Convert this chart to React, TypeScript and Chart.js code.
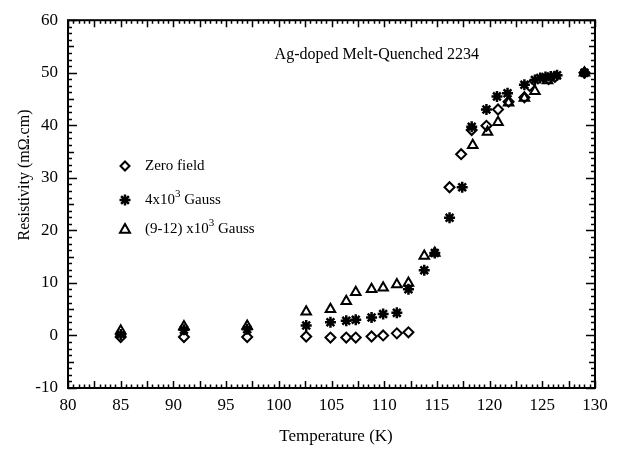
import React, { useEffect, useRef } from "react";
import { Chart, registerables } from "chart.js";

Chart.register(...registerables);

// Zero field (open diamonds)
const zeroT = [85, 91, 97, 102.6, 104.9, 106.4, 107.3, 108.8, 109.9, 111.2, 112.3, 116.2, 117.3, 118.3, 119.7, 120.8, 121.8, 123.3, 123.8, 125.6, 126.2, 129];
const zeroR = [-0.3, -0.3, -0.3, -0.2, -0.4, -0.4, -0.4, -0.2, 0.0, 0.4, 0.6, 28.2, 34.5, 39.1, 39.9, 43.0, 44.5, 45.3, 47.5, 48.8, 49.2, 50.0];

// 4x10^3 Gauss (asterisks)
const g4T = [85, 91, 97, 102.6, 104.9, 106.4, 107.3, 108.8, 109.9, 111.2, 112.3, 113.8, 114.8, 116.2, 117.4, 118.3, 119.7, 120.7, 121.7, 123.3, 124.3, 124.8, 125.3, 125.8, 126.4, 129];
const g4R = [0.2, 1.1, 1.2, 1.9, 2.5, 2.8, 3.0, 3.4, 4.1, 4.3, 8.8, 12.4, 15.7, 22.4, 28.2, 39.7, 43.0, 45.5, 46.1, 47.7, 48.6, 49.0, 49.2, 49.3, 49.5, 50.0];

// (9-12)x10^3 Gauss (open triangles)
const g9T = [85, 91, 97, 102.6, 104.9, 106.4, 107.3, 108.8, 109.9, 111.2, 112.3, 113.8, 114.8, 118.4, 119.8, 120.8, 121.8, 123.3, 124.3, 125.5, 129];
const g9R = [0.9, 1.7, 1.8, 4.5, 5.0, 6.5, 8.2, 8.8, 9.1, 9.7, 10.0, 15.1, 15.7, 36.2, 38.7, 40.6, 44.3, 45.2, 46.5, 48.5, 50.0];

const xTicks = [80, 85, 90, 95, 100, 105, 110, 115, 120, 125, 130];
const yTicks = [-10, 0, 10, 20, 30, 40, 50, 60];

const titleText = "Ag-doped Melt-Quenched 2234";
const xTitle = "Temperature (K)";
const yTitle = "Resistivity (m\u03A9.cm)";
const legendItems = [
  { base: "Zero field", sup: "", tail: "" },
  { base: "4x10", sup: "3", tail: " Gauss" },
  { base: "(9-12) x10", sup: "3", tail: " Gauss" },
];

const FONT = "'Liberation Serif', 'Times New Roman', serif";

const toPts = (t: number[], r: number[]) => t.map((v, i) => ({ x: v, y: r[i] }));

function drawDiamond(ctx: CanvasRenderingContext2D, cx: number, cy: number, r: number) {
  ctx.beginPath();
  ctx.moveTo(cx, cy - r);
  ctx.lineTo(cx + r, cy);
  ctx.lineTo(cx, cy + r);
  ctx.lineTo(cx - r, cy);
  ctx.closePath();
  ctx.stroke();
}
function drawStar(ctx: CanvasRenderingContext2D, cx: number, cy: number, r: number) {
  ctx.beginPath();
  for (let k = 0; k < 4; k++) {
    const a = (k * Math.PI) / 4;
    ctx.moveTo(cx - r * Math.cos(a), cy - r * Math.sin(a));
    ctx.lineTo(cx + r * Math.cos(a), cy + r * Math.sin(a));
  }
  ctx.stroke();
}
function drawTri(ctx: CanvasRenderingContext2D, cx: number, cy: number, r: number) {
  ctx.beginPath();
  ctx.moveTo(cx, cy - r);
  ctx.lineTo(cx + r, cy + r * 0.75);
  ctx.lineTo(cx - r, cy + r * 0.75);
  ctx.closePath();
  ctx.stroke();
}

const framePlugin = {
  id: "frame",
  afterDraw(chart: any) {
    const { ctx, chartArea } = chart;
    const { left, right, top, bottom } = chartArea;
    const xs = chart.scales.x;
    const ys = chart.scales.y;
    ctx.save();
    ctx.strokeStyle = "#000";
    ctx.fillStyle = "#000";
    ctx.lineWidth = 2;
    ctx.strokeRect(left, top, right - left, bottom - top);

    ctx.lineWidth = 1.5;
    ctx.beginPath();
    for (let i = 0; i <= 100; i++) {
      const v = 80 + i * 0.5;
      const px = Math.round(xs.getPixelForValue(v)) + 0.5;
      const len = i % 5 === 0 ? 7 : 3.5;
      ctx.moveTo(px, bottom);
      ctx.lineTo(px, bottom - len);
      ctx.moveTo(px, top);
      ctx.lineTo(px, top + len);
    }
    for (let i = 0; i <= 56; i++) {
      const v = -10 + i * 1.25;
      const py = Math.round(ys.getPixelForValue(v)) + 0.5;
      const len = i % 8 === 0 ? 9 : i % 4 === 0 ? 6 : 4;
      ctx.moveTo(left, py);
      ctx.lineTo(left + len, py);
      ctx.moveTo(right, py);
      ctx.lineTo(right - len, py);
    }
    ctx.stroke();

    // Title
    ctx.font = `16px ${FONT}`;
    ctx.textBaseline = "middle";
    ctx.textAlign = "right";
    ctx.fillText(titleText, 479, 55);

    // Axis titles
    ctx.textAlign = "center";
    ctx.font = `17px ${FONT}`;
    ctx.fillText(xTitle, 336, 437);
    ctx.font = `16px ${FONT}`;
    ctx.save();
    ctx.translate(25, 175);
    ctx.rotate(-Math.PI / 2);
    ctx.fillText(yTitle, 0, 0);
    ctx.restore();

    // Legend
    const ly = [166, 200, 229];
    ctx.lineWidth = 2;
    drawDiamond(ctx, 125, ly[0], 4.5);
    ctx.lineWidth = 2.5;
    drawStar(ctx, 125, ly[1], 5.5);
    ctx.lineWidth = 2;
    drawTri(ctx, 125, ly[2], 5);
    ctx.textAlign = "left";
    legendItems.forEach((it, i) => {
      let x = 145;
      ctx.font = `15px ${FONT}`;
      ctx.textBaseline = "middle";
      ctx.fillText(it.base, x, ly[i]);
      x += ctx.measureText(it.base).width;
      if (it.sup) {
        ctx.font = `11px ${FONT}`;
        ctx.fillText(it.sup, x, ly[i] - 6);
        x += ctx.measureText(it.sup).width;
        ctx.font = `15px ${FONT}`;
        ctx.fillText(it.tail, x, ly[i]);
      }
    });
    ctx.restore();
  },
};

export default function App() {
  const ref = useRef<HTMLCanvasElement | null>(null);
  useEffect(() => {
    if (!ref.current) return;
    const chart = new Chart(ref.current, {
      type: "scatter",
      data: {
        datasets: [
          {
            label: "Zero field",
            data: toPts(zeroT, zeroR),
            pointStyle: "rectRot",
            pointRadius: 5,
            borderColor: "#000",
            backgroundColor: "rgba(0,0,0,0)",
            borderWidth: 2,
          },
          {
            label: "4x10^3 Gauss",
            data: toPts(g4T, g4R),
            pointStyle: "star",
            pointRadius: 5.5,
            borderColor: "#000",
            backgroundColor: "#000",
            borderWidth: 2.5,
          },
          {
            label: "(9-12) x10^3 Gauss",
            data: toPts(g9T, g9R),
            pointStyle: "triangle",
            pointRadius: 5.5,
            borderColor: "#000",
            backgroundColor: "rgba(0,0,0,0)",
            borderWidth: 2,
          },
        ],
      },
      options: {
        animation: false,
        responsive: false,
        devicePixelRatio: 1,
        layout: { padding: { left: 0, right: 27, top: 16, bottom: 0 } },
        plugins: { legend: { display: false }, tooltip: { enabled: false } },
        scales: {
          x: {
            type: "linear",
            min: 80,
            max: 130,
            afterBuildTicks: (s: any) => {
              s.ticks = xTicks.map((v) => ({ value: v }));
            },
            afterFit: (s: any) => {
              s.height = 61;
            },
            ticks: {
              color: "#000",
              font: { family: FONT, size: 17 },
              padding: 7,
              maxRotation: 0,
              autoSkip: false,
            },
            grid: { display: false, drawTicks: false },
            border: { display: false },
          },
          y: {
            type: "linear",
            min: -10,
            max: 60,
            afterBuildTicks: (s: any) => {
              s.ticks = yTicks.map((v) => ({ value: v }));
            },
            afterFit: (s: any) => {
              s.width = 68;
            },
            ticks: {
              color: "#000",
              font: { family: FONT, size: 17 },
              padding: 10,
              autoSkip: false,
            },
            grid: { display: false, drawTicks: false },
            border: { display: false },
          },
        },
      },
      plugins: [framePlugin],
    });
    return () => chart.destroy();
  }, []);
  return (
    <div style={{ position: "absolute", left: 0, top: 0, width: 622, height: 449, background: "#fff" }}>
      <canvas ref={ref} width={622} height={449} style={{ display: "block" }} />
    </div>
  );
}
